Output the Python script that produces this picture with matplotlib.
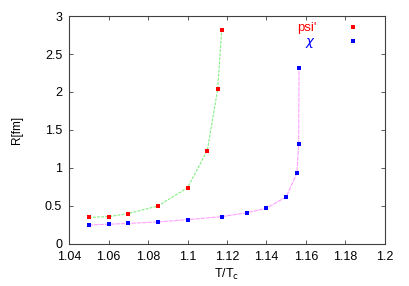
import matplotlib
matplotlib.use("Agg")
from matplotlib import pyplot as plt

# psi' radius vs T/Tc
psi_t = [1.050, 1.060, 1.070, 1.085, 1.100, 1.110, 1.1153, 1.1173]
psi_r = [0.35, 0.36, 0.40, 0.50, 0.74, 1.23, 2.04, 2.81]

# chi radius vs T/Tc
chi_t = [1.050, 1.060, 1.070, 1.085, 1.100, 1.1175, 1.130, 1.140, 1.150, 1.1554, 1.1563, 1.1565]
chi_r = [0.25, 0.26, 0.27, 0.29, 0.32, 0.36, 0.41, 0.47, 0.62, 0.93, 1.31, 2.31]

xticks = [1.04, 1.06, 1.08, 1.1, 1.12, 1.14, 1.16, 1.18, 1.2]
xtick_labels = ["1.04", "1.06", "1.08", "1.1", "1.12", "1.14", "1.16", "1.18", "1.2"]
yticks = [0, 0.5, 1, 1.5, 2, 2.5, 3]
ytick_labels = ["0", "0.5", "1", "1.5", "2", "2.5", "3"]


def main():
    plt.rcParams["font.family"] = ["Liberation Sans", "DejaVu Sans"]
    fig = plt.figure(figsize=(4.09, 2.86), dpi=100)
    ax = fig.add_axes([0.169, 0.147, 0.772, 0.797])

    ax.plot(psi_t, psi_r, color="#80ee80", lw=0.8, ls=(0, (2.5, 1.2)), zorder=1)
    ax.plot(chi_t, chi_r, color="#ffa0ff", lw=0.8, ls=(0, (4, 0.8)), zorder=1)
    ax.plot(psi_t, psi_r, ls="none", marker="s", ms=2.6, mew=0, color="#ff0000", label="psi'", zorder=2)
    ax.plot(chi_t, chi_r, ls="none", marker="s", ms=2.6, mew=0, color="#0000ff", label=r"$\chi$", zorder=2)

    ax.set_xlim(1.04, 1.2)
    ax.set_ylim(0, 3)
    ax.set_xticks(xticks, xtick_labels)
    ax.set_yticks(yticks, ytick_labels)
    ax.tick_params(direction="in", length=3, width=0.6, labelsize=9, top=True, right=True,
                   color="#404040", pad=5)
    for s in ax.spines.values():
        s.set_linewidth(0.8)
        s.set_color("#404040")

    ax.set_xlabel(r"T/T$_\mathrm{c}$", fontsize=9, labelpad=3)
    ax.set_ylabel("R[fm]", fontsize=8.5, labelpad=16)

    leg = ax.legend(loc="upper right", bbox_to_anchor=(0.958, 1.025), frameon=False,
                    markerfirst=False, handlelength=1.0, handletextpad=2.3,
                    labelspacing=0.12, fontsize=9.5, labelcolor="markerfacecolor")
    for t in leg.get_texts():
        t.set_ha("right")

    fig.savefig("out.png", dpi=100)


if __name__ == "__main__":
    main()
